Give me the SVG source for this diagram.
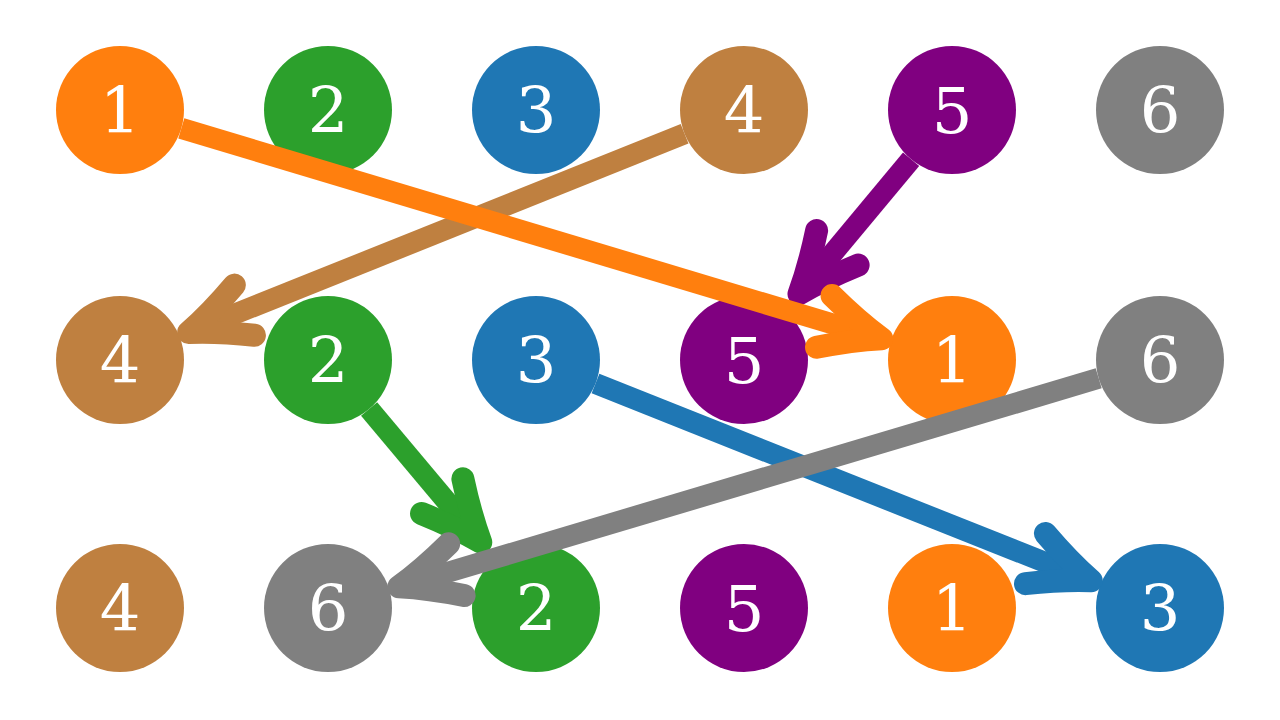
<svg xmlns="http://www.w3.org/2000/svg" xmlns:xlink="http://www.w3.org/1999/xlink" width="1280" height="720" viewBox="0 0 1280 720">
<style>
.n circle{stroke:none}
.n text{font-family:'DejaVu Serif','Liberation Serif','Noto Serif',serif;font-size:64px;fill:#ffffff;text-anchor:middle}
.shaft{stroke-width:21;fill:none;stroke-linecap:butt}
.head{stroke-width:23;fill:none;stroke-linecap:round;stroke-linejoin:round}
.orange{fill:#ff7f0e}.green{fill:#2ca02c}.blue{fill:#1f77b4}.brown{fill:#bf8040}.purple{fill:#800080}.gray{fill:#808080}
</style>
<defs>
<path id="ah" d="M -70 -27 Q -38 -10 -10 0 Q -38 10 -70 27"/>
</defs>
<rect width="1280" height="720" fill="#ffffff"/>
<g id="nodes">
<g id="top1" class="n"><circle class="orange" cx="120" cy="110" r="64"/><text x="120" y="133">1</text></g>
<g id="top2" class="n"><circle class="green" cx="328" cy="110" r="64"/><text x="328" y="133">2</text></g>
<g id="top3" class="n"><circle class="blue" cx="536" cy="110" r="64"/><text x="536" y="133">3</text></g>
<g id="top4" class="n"><circle class="brown" cx="744" cy="110" r="64"/><text x="744" y="133">4</text></g>
<g id="top5" class="n"><circle class="purple" cx="952" cy="110" r="64"/><text x="952" y="133">5</text></g>
<g id="top6" class="n"><circle class="gray" cx="1160" cy="110" r="64"/><text x="1160" y="133">6</text></g>
<g id="mid4" class="n"><circle class="brown" cx="120" cy="360" r="64"/><text x="120" y="383">4</text></g>
<g id="mid2" class="n"><circle class="green" cx="328" cy="360" r="64"/><text x="328" y="383">2</text></g>
<g id="mid3" class="n"><circle class="blue" cx="536" cy="360" r="64"/><text x="536" y="383">3</text></g>
<g id="mid5" class="n"><circle class="purple" cx="744" cy="360" r="64"/><text x="744" y="383">5</text></g>
<g id="mid1" class="n"><circle class="orange" cx="952" cy="360" r="64"/><text x="952" y="383">1</text></g>
<g id="mid6" class="n"><circle class="gray" cx="1160" cy="360" r="64"/><text x="1160" y="383">6</text></g>
<g id="bot4" class="n"><circle class="brown" cx="120" cy="608" r="64"/><text x="120" y="631">4</text></g>
<g id="bot6" class="n"><circle class="gray" cx="328" cy="608" r="64"/><text x="328" y="631">6</text></g>
<g id="bot2" class="n"><circle class="green" cx="536" cy="608" r="64"/><text x="536" y="631">2</text></g>
<g id="bot5" class="n"><circle class="purple" cx="744" cy="608" r="64"/><text x="744" y="631">5</text></g>
<g id="bot1" class="n"><circle class="orange" cx="952" cy="608" r="64"/><text x="952" y="631">1</text></g>
<g id="bot3" class="n"><circle class="blue" cx="1160" cy="608" r="64"/><text x="1160" y="631">3</text></g>
</g>
<g id="connectors">
<g id="a-brown" stroke="#bf8040">
<line class="shaft" x1="684.6" y1="133.8" x2="198" y2="328.8"/>
<use xlink:href="#ah" class="head" transform="translate(179.4 336.2) rotate(158.16)"/>
</g>
<g id="a-purple" stroke="#800080">
<line class="shaft" x1="911.1" y1="159.2" x2="805.4" y2="286.2"/>
<use xlink:href="#ah" class="head" transform="translate(792.6 301.6) rotate(129.76)"/>
</g>
<g id="a-green" stroke="#2ca02c">
<line class="shaft" x1="369.1" y1="409" x2="474.4" y2="534.5"/>
<use xlink:href="#ah" class="head" transform="translate(487.2 549.8) rotate(50)"/>
</g>
<g id="a-blue" stroke="#1f77b4">
<line class="shaft" x1="595.5" y1="383.6" x2="1081.9" y2="577"/>
<use xlink:href="#ah" class="head" transform="translate(1100.5 584.4) rotate(21.67)"/>
</g>
<g id="a-orange" stroke="#ff7f0e">
<line class="shaft" x1="181.3" y1="128.4" x2="872.1" y2="335.8"/>
<use xlink:href="#ah" class="head" transform="translate(891.3 341.6) rotate(16.73)"/>
</g>
<g id="a-gray" stroke="#808080">
<line class="shaft" x1="1098.7" y1="378.3" x2="408.5" y2="584"/>
<use xlink:href="#ah" class="head" transform="translate(389.3 589.7) rotate(163.4)"/>
</g>
</g>
</svg>
